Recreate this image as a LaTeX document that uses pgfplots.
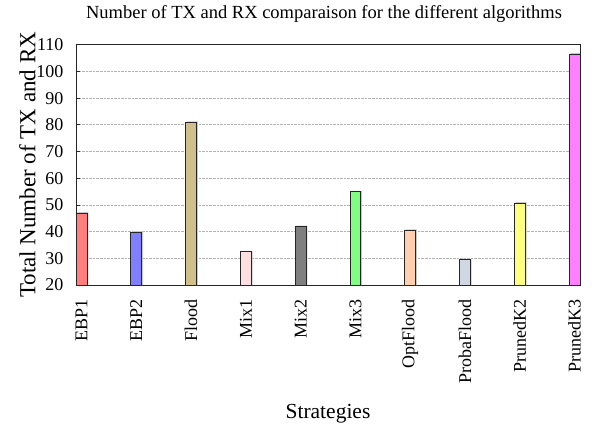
\documentclass[border=0pt]{standalone}
\usepackage{fontspec}
\setmainfont{Liberation Serif}
\usepackage{pgfplots}
\pgfplotsset{compat=1.18}

\definecolor{cEBPa}{HTML}{FF7F7F}
\definecolor{cEBPb}{HTML}{7F7FFF}
\definecolor{cFlood}{HTML}{CFBF8B}
\definecolor{cMixa}{HTML}{FFDFDF}
\definecolor{cMixb}{HTML}{7F7F7F}
\definecolor{cMixc}{HTML}{7FFF7F}
\definecolor{cOpt}{HTML}{FFCFAF}
\definecolor{cProba}{HTML}{CFD7E3}
\definecolor{cPrKa}{HTML}{FFFF7F}
\definecolor{cPrKb}{HTML}{FF7FFF}

\pgfplotsset{
  strat bar/.style={ybar, bar width=0.2, bar shift=0pt, draw=black!85, line width=0.8bp},
  strat shadow/.style={ybar, bar width=0.2, bar shift=1.3bp, fill=black!22, draw=none, forget plot},
}

\begin{document}
\begin{tikzpicture}
\begin{axis}[
    scale only axis, width=504bp, height=240.3bp,
    xmin=-0.1, xmax=9.1, ymin=20, ymax=110,
    xtick={0,...,9},
    xticklabels={EBP1,EBP2,Flood,Mix1,Mix2,Mix3,OptFlood,ProbaFlood,PrunedK2,PrunedK3},
    ytick={20,30,...,110},
    x tick style={draw=none},
    ytick pos=left, tick align=inside,
    major tick length=4bp,
    y tick style={black!85, line width=0.8bp},
    axis line style={black!85, line width=0.8bp},
    ymajorgrids, grid style={densely dotted, black!30, line width=0.7bp},
    /pgf/number format/assume math mode=true,
    tick label style={font=\fontsize{18bp}{20bp}\selectfont},
    xticklabel style={rotate=90, anchor=east},
    xticklabel shift=11bp,
    yticklabel style={xshift=-9bp},
    xlabel={Strategies},
    ylabel={Total Number of TX and RX},
    xlabel style={font=\fontsize{21.5bp}{24bp}\selectfont, yshift=-14bp},
    ylabel style={font=\fontsize{23bp}{26bp}\selectfont, yshift=-6bp},
    title={Number of TX and RX comparaison for the different algorithms},
    title style={font=\fontsize{18.5bp}{21bp}\selectfont, yshift=13bp, xshift=-4bp},
]
\addplot[strat shadow] coordinates {(0,47.3) (1,40.2) (2,81.3) (3,32.8) (4,42.2) (5,55.3) (6,40.8) (7,29.9) (8,51.0) (9,106.9)};
\addplot[strat bar, fill=cEBPa]   coordinates {(0,46.9)};
\addplot[strat bar, fill=cEBPb]   coordinates {(1,39.8)};
\addplot[strat bar, fill=cFlood]  coordinates {(2,81.0)};
\addplot[strat bar, fill=cMixa]   coordinates {(3,32.4)};
\addplot[strat bar, fill=cMixb]   coordinates {(4,41.8)};
\addplot[strat bar, fill=cMixc]   coordinates {(5,55.0)};
\addplot[strat bar, fill=cOpt]    coordinates {(6,40.5)};
\addplot[strat bar, fill=cProba]  coordinates {(7,29.5)};
\addplot[strat bar, fill=cPrKa]   coordinates {(8,50.6)};
\addplot[strat bar, fill=cPrKb]   coordinates {(9,106.5)};
\end{axis}
\path (current axis.south west) ++(-76bp,-147bp) rectangle ++(595bp,432bp);
\end{tikzpicture}
\end{document}
